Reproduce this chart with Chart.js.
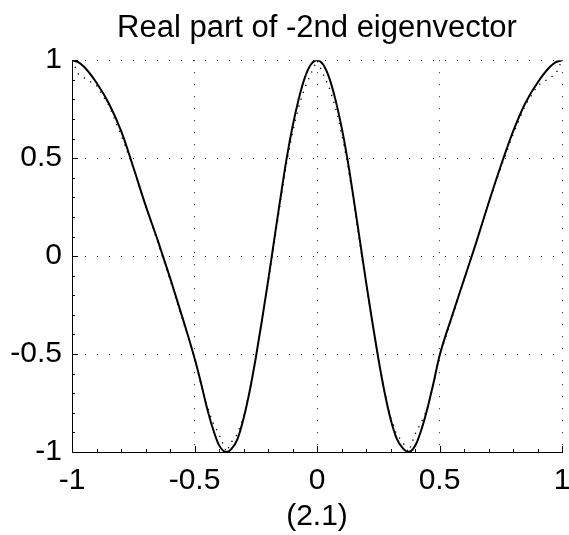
<!DOCTYPE html>
<html>
<head>
<meta charset="utf-8">
<script src="https://cdn.jsdelivr.net/npm/chart.js@4/dist/chart.umd.min.js"></script>
<style>
  html, body { margin: 0; padding: 0; background: #fff; }
  #wrap { width: 569px; height: 535px; position: relative; }
</style>
</head>
<body>
<div id="wrap"><canvas id="c" width="569" height="535"></canvas></div>
<script>
const titleText = 'Real part of -2nd eigenvector';
const xAxisTitle = '(2.1)';
const tickValues = [-1, -0.5, 0, 0.5, 1];
const tickLabels = ['-1', '-0.5', '0', '0.5', '1'];
const minorTickValues = [-0.9, -0.8, -0.7, -0.6, -0.4, -0.3, -0.2, -0.1, 0.1, 0.2, 0.3, 0.4, 0.6, 0.7, 0.8, 0.9];

const xs = [-1, -0.975, -0.95, -0.9, -0.85, -0.8, -0.75, -0.7, -0.65, -0.6, -0.55, -0.5,
  -0.475, -0.45, -0.425, -0.4, -0.37, -0.35, -0.325, -0.3, -0.275, -0.25, -0.225, -0.2,
  -0.175, -0.15, -0.125, -0.1, -0.075, -0.05, -0.025, 0,
  0.025, 0.05, 0.075, 0.1, 0.125, 0.15, 0.175, 0.2, 0.225, 0.25, 0.275, 0.3, 0.325, 0.35,
  0.374, 0.4, 0.425, 0.45, 0.475, 0.5, 0.55, 0.6, 0.65, 0.7, 0.75, 0.8, 0.85, 0.9, 0.95, 0.975, 1];

const solidY = [1, 0.99, 0.965, 0.885, 0.78, 0.64, 0.455, 0.26, 0.08, -0.11, -0.31, -0.52,
  -0.64, -0.77, -0.88, -0.965, -1, -0.985, -0.935, -0.83, -0.69, -0.52, -0.33, -0.13,
  0.08, 0.29, 0.49, 0.66, 0.80, 0.91, 0.978, 1,
  0.978, 0.91, 0.80, 0.66, 0.49, 0.29, 0.08, -0.13, -0.33, -0.52, -0.69, -0.83, -0.93, -0.98,
  -1, -0.97, -0.89, -0.78, -0.65, -0.51, -0.31, -0.12, 0.07, 0.27, 0.46, 0.635, 0.78, 0.885, 0.965, 0.99, 1];

const dottedY = [1, 0.93, 0.91, 0.87, 0.77, 0.62, 0.45, 0.26, 0.07, -0.12, -0.32, -0.52,
  -0.65, -0.76, -0.85, -0.91, -1, -0.95, -0.91, -0.82, -0.69, -0.52, -0.33, -0.14,
  0.06, 0.27, 0.47, 0.63, 0.76, 0.86, 0.93, 1,
  0.93, 0.86, 0.76, 0.63, 0.47, 0.27, 0.06, -0.14, -0.33, -0.52, -0.69, -0.82, -0.91, -0.95,
  -1, -0.91, -0.85, -0.78, -0.66, -0.51, -0.32, -0.12, 0.07, 0.27, 0.45, 0.62, 0.77, 0.87, 0.91, 0.93, 1];

const FONT = "'Liberation Sans', Arial, Helvetica, sans-serif";

const minorTicks = {
  id: 'minorTicks',
  afterDraw(chart) {
    const ctx = chart.ctx;
    const xs_ = chart.scales.x, ys_ = chart.scales.y;
    const a = chart.chartArea;
    ctx.save();
    ctx.strokeStyle = '#000';
    ctx.lineWidth = 1;
    ctx.beginPath();
    const draw = (v, len) => {
      const px = Math.round(xs_.getPixelForValue(v)) + 0.5;
      ctx.moveTo(px, a.bottom);
      ctx.lineTo(px, a.bottom - len);
      const py = Math.round(ys_.getPixelForValue(v)) + 0.5;
      ctx.moveTo(a.left, py);
      ctx.lineTo(a.left + len, py);
    };
    minorTickValues.forEach(v => draw(v, 3));
    tickValues.forEach(v => draw(v, 6));
    ctx.stroke();
    ctx.restore();
  }
};

const toPoints = ys => xs.map((x, i) => ({ x: x, y: ys[i] }));

new Chart(document.getElementById('c'), {
  type: 'line',
  data: {
    datasets: [
      {
        label: 'solid',
        data: toPoints(solidY),
        borderColor: '#000',
        borderWidth: 2,
        pointRadius: 0,
        cubicInterpolationMode: 'monotone',
        fill: false,
        order: 0
      },
      {
        label: 'dotted',
        data: toPoints(dottedY),
        borderColor: '#000',
        borderWidth: 1.3,
        borderDash: [1.3, 6],
        pointRadius: 0,
        tension: 0,
        fill: false,
        order: 1
      }
    ]
  },
  options: {
    responsive: false,
    animation: false,
    devicePixelRatio: 1,
    layout: { padding: { left: 0, right: 7, top: 0, bottom: 0 } },
    plugins: {
      legend: { display: false },
      tooltip: { enabled: false },
      title: {
        display: true,
        text: titleText,
        fullSize: false,
        color: '#000',
        font: { family: FONT, size: 31, weight: 'normal', lineHeight: 1.2 },
        padding: { top: 10, bottom: 13 }
      }
    },
    scales: {
      x: {
        type: 'linear',
        min: -1, max: 1,
        afterBuildTicks: s => { s.ticks = tickValues.map(v => ({ value: v })); },
        afterFit: s => { s.height = 83; s.paddingLeft = 0; s.paddingRight = 0; },
        ticks: {
          color: '#000',
          font: { family: FONT, size: 30 },
          padding: 11,
          maxRotation: 0,
          autoSkip: false,
          callback: (v) => tickLabels[tickValues.indexOf(v)]
        },
        grid: {
          color: '#222',
          lineWidth: 1,
          drawTicks: false
        },
        border: { display: true, color: '#000', width: 1, dash: [1, 11] },
        title: {
          display: true,
          text: xAxisTitle,
          color: '#000',
          font: { family: FONT, size: 30 },
          padding: { top: 0, bottom: 0 }
        }
      },
      y: {
        type: 'linear',
        min: -1, max: 1,
        afterBuildTicks: s => { s.ticks = tickValues.map(v => ({ value: v })); },
        afterFit: s => { s.width = 72; s.paddingTop = 0; s.paddingBottom = 0; },
        ticks: {
          color: '#000',
          font: { family: FONT, size: 30 },
          padding: 10,
          autoSkip: false,
          callback: (v) => tickLabels[tickValues.indexOf(v)]
        },
        grid: {
          color: '#222',
          lineWidth: 1,
          drawTicks: false
        },
        border: { display: true, color: '#000', width: 1, dash: [1, 11] }
      }
    }
  },
  plugins: [minorTicks]
});
</script>
</body>
</html>
